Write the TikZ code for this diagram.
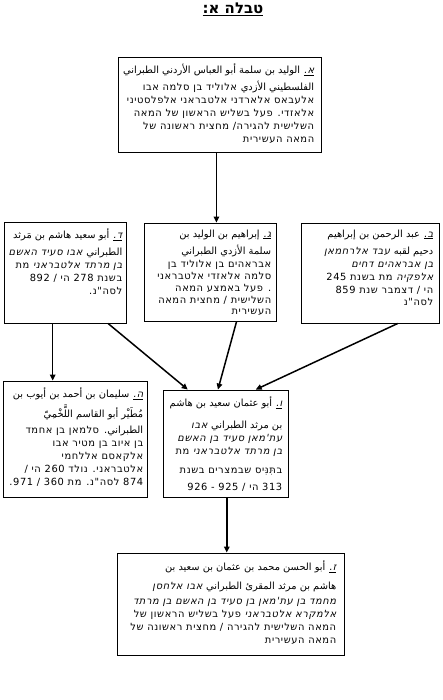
\documentclass[tikz,border=0pt]{standalone}
\usepackage{fontspec}
\setmainfont{DejaVu Sans}
\newfontfamily\heb[Script=Hebrew,LetterSpace=6]{DejaVu Sans}
\newfontfamily\hebit[Script=Hebrew,FakeSlant=0.2,LetterSpace=6]{DejaVu Sans}
\newfontfamily\hebt[Script=Hebrew]{DejaVu Sans}
\newfontfamily\arab[Script=Arabic]{DejaVu Sans}
\TeXXeTstate=1
\usetikzlibrary{arrows.meta,calc}
\newcommand\rl[1]{\beginR #1\endR}
\newcommand\lab[1]{\underline{\hbox{\hebit\beginR #1\endR}}}
\newcommand\ar[1]{{\arab\fontsize{9.9}{10}\selectfont #1}}
\newcommand\hi[1]{{\hebit #1}}
\tikzset{
  box/.style={draw, line width=0.9pt, inner sep=0pt},
  txt/.style={inner sep=0pt, align=right, font=\heb\fontsize{9.9}{13}\selectfont},
  conn/.style={line width=1.5pt, -{Triangle[length=6pt,width=5.5pt]}},
  ttl/.style={inner sep=0pt, font=\hebt\bfseries\fontsize{15}{18}\selectfont}
}
\begin{document}
\begin{tikzpicture}[x=1bp,y=-1bp]
\useasboundingbox (0,0) rectangle (443,700);
\fill[white] (0,0) rectangle (443,700);

\node[ttl] (T) at (233,9) {\underline{\hbox{\beginR טבלה א:\endR}}};

% boxes
\node[box, minimum width=203bp, minimum height=95bp] (A) at (219.5,104.5) {};
\node[box, minimum width=122bp, minimum height=101bp] (D) at (65,272.5) {};
\node[box, minimum width=132bp, minimum height=98bp] (G) at (210,272) {};
\node[box, minimum width=138bp, minimum height=100bp] (B) at (370,273) {};
\node[box, minimum width=144bp, minimum height=116bp] (H) at (75,439) {};
\node[box, minimum width=125bp, minimum height=107bp] (V) at (225.5,443.5) {};
\node[box, minimum width=227bp, minimum height=102bp] (Z) at (230.5,604) {};

% texts
\node[txt, anchor=north east] (At) at ($(A.north east)+(-7,7)$) {%
\rl{\lab{א.} \ar{الوليد بن سلمة أبو العباس الأردني الطبراني}}\\[4pt]
\rl{\ar{الفلسطيني الأزدي} אלוליד בן סלמה אבו}\\
\rl{אלעבאס אלארדני אלטבראני אלפלסטיני}\\
\rl{אלאזדי. פעל בשליש הראשון של המאה}\\
\rl{השלישית להגירה/ מחצית ראשונה של}\\
\rl{המאה העשירית}};

\node[txt, anchor=north east] (Dt) at ($(D.north east)+(-4,7)$) {%
\rl{\lab{ד.} \ar{أبو سعيد هاشم بن مَرثد}}\\[4pt]
\rl{\ar{الطبراني} \hi{אבו סעיד האשם}}\\
\rl{\hi{בן מרתד אלטבראני} מת}\\
\rl{בשנת 278 הי / 892}\\
\rl{לסה"נ.}};

\node[txt, anchor=north east] (Gt) at ($(G.north east)+(-5,7)$) {%
\rl{\lab{ג.} \ar{إبراهيم بن الوليد بن}}\\[4pt]
\rl{\ar{سلمة الأزدي الطبراني}}\\
\rl{אבראהים בן אלוליד בן}\\[-1pt]
\rl{סלמה אלאזדי אלטבראני}\\[-1pt]
\rl{. פעל באמצע המאה}\\[-1pt]
\rl{השלישית / מחצית המאה}\\[-1pt]
\rl{העשירית}};

\node[txt, anchor=north east] (Bt) at ($(B.north east)+(-6,7)$) {%
\rl{\lab{ב.} \ar{عبد الرحمن بن إبراهيم}}\\[4pt]
\rl{\ar{دحيم لقبه} \hi{עבד אלרחמאן}}\\
\rl{\hi{בן אבראהים דחים}}\\
\rl{\hi{אלפקיה} מת בשנת 245}\\
\rl{הי / דצמבר שנת 859}\\
\rl{לסה"נ}};

\node[txt, anchor=north east] (Ht) at ($(H.north east)+(-4,7)$) {%
\rl{\lab{ה.} \ar{سليمان بن أحمد بن أيوب بن}}\\[4pt]
\rl{\ar{مُطَيْر أبو القاسم اللَّخْمِيّ}}\\[4pt]
\rl{\ar{الطبراني.} סלמאן בן אחמד}\\
\rl{בן איוב בן מטיר אבו}\\
\rl{אלקאסם אללחמי}\\
\rl{אלטבראני. נולד 260 הי /}\\
\rl{874 לסה"נ. מת 360 / 971.}};

\node[txt, anchor=north east] (Vt) at ($(V.north east)+(-6,7)$) {%
\rl{\lab{ו.} \ar{أبو عثمان سعيد بن هاشم}}\\[9pt]
\rl{\ar{بن مرثد الطبراني} \hi{אבו}}\\[0pt]
\rl{\hi{עת'מאן סעיד בן האשם}}\\[0pt]
\rl{\hi{בן מרתד אלטבראני} מת}\\[6pt]
\rl{בתִּנִּיס שבמצרים בשנת}\\[4pt]
\rl{313 הי / 925 - 926}};

\node[txt, anchor=north east] (Zt) at ($(Z.north east)+(-8,8)$) {%
\rl{\lab{ז.} \ar{أبو الحسن محمد بن عثمان بن سعيد بن}}\\[6pt]
\rl{\ar{هاشم بن مرثد المقرئ الطبراني} \hi{אבו אלחסן}}\\[2pt]
\rl{\hi{מחמד בן עת'מאן בן סעיד בן האשם בן מרתד}}\\
\rl{\hi{אלמקרא אלטבראני} פעל בשליש הראשון של}\\
\rl{המאה השלישית להגירה / מחצית ראשונה של}\\
\rl{המאה העשירית}};

% connector anchor points
\coordinate (a1) at ($(A.south west)!0.485!(A.south east)$);
\coordinate (d1) at ($(D.south west)!0.4!(D.south east)$);
\coordinate (d2) at ($(D.south west)!0.85!(D.south east)$);
\coordinate (g1) at ($(G.south west)!0.7!(G.south east)$);
\coordinate (b1) at ($(B.south west)!0.7!(B.south east)$);
\coordinate (v0) at ($(V.south west)!0.51!(V.south east)$);
\coordinate (v1) at ($(V.north west)!0.2!(V.north east)$);
\coordinate (v2) at ($(V.north west)!0.44!(V.north east)$);
\coordinate (v3) at ($(V.north west)!0.74!(V.north east)$);

% connectors
\draw[conn] (a1) -- (a1 |- G.north);
\draw[conn] (d1) -- (d1 |- H.north);
\draw[conn] (d2) -- (v1);
\draw[conn] (g1) -- (v2);
\draw[conn] (b1) -- (v3);
\draw[conn] (v0) -- (v0 |- Z.north);
\end{tikzpicture}
\end{document}
